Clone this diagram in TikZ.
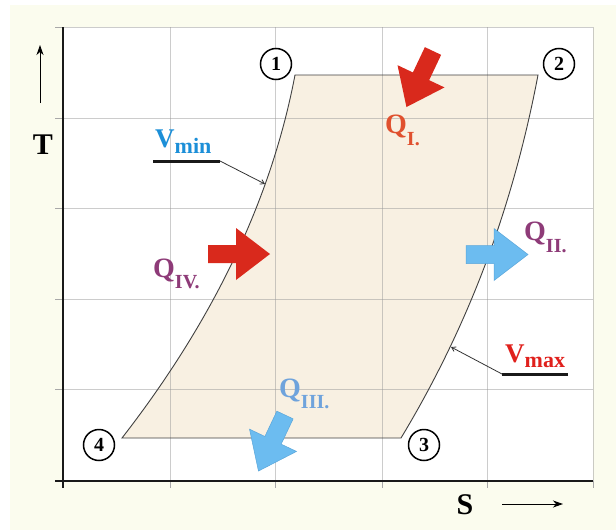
\documentclass[tikz,border=0pt]{standalone}
\usepackage{fontspec}
\setmainfont{Liberation Serif}
\usetikzlibrary{arrows.meta}
\definecolor{bgyellow}{HTML}{FBFCEE}
\definecolor{cyclefill}{HTML}{F8F0E2}
\definecolor{gridgray}{HTML}{9A9A9A}
\definecolor{tickgray}{HTML}{A8A8A8}
\definecolor{qred}{HTML}{D9291C}
\definecolor{qredtext}{HTML}{E0502E}
\definecolor{qpurple}{HTML}{8E3B78}
\definecolor{qbluetext}{HTML}{6FA3DC}
\definecolor{qblue}{HTML}{6CBCF0}
\definecolor{qblueedge}{HTML}{5AA6DA}
\definecolor{vminblue}{HTML}{1C8FD8}
\definecolor{vmaxred}{HTML}{E0201C}
\newcommand*\mysubsize{\fontsize{20}{20}\selectfont}
\newcommand*\myvsub{\fontsize{22}{22}\selectfont}
\begin{document}
\begin{tikzpicture}[x=1pt,y=-1pt,
  gridline/.style={draw=gridgray,line width=0.9pt,opacity=0.5},
  ticks/.style={draw=tickgray,line width=1pt},
  axisline/.style={draw=black!90,line width=2pt},
  cycleline/.style={draw=black!75,line width=0.9pt},
  circnum/.style={circle,draw=black,line width=1.5pt,fill=white,minimum size=31pt,inner sep=0pt,font=\fontsize{20}{20}\selectfont\bfseries},
  qlabel/.style={anchor=base west,inner sep=0pt,font=\fontsize{28}{28}\selectfont\bfseries},
  vlabel/.style={anchor=base west,inner sep=0pt,font=\fontsize{27}{27}\selectfont\bfseries},
  axislabel/.style={inner sep=0pt,font=\fontsize{30}{30}\selectfont\bfseries},
  underbar/.style={draw=black!90,line width=3pt},
  leader/.style={draw=black!80,line width=0.8pt,-{Straight Barb[length=4pt,width=5pt]}},
  dirarrow/.style={draw=black,line width=1pt,-{Stealth[length=10pt,width=7pt,inset=3pt]}},
  blockarrow/.pic={\path[pic actions] (0,-9) -- (28,-9) -- (28,-26) -- (62,0) -- (28,26) -- (28,9) -- (0,9) -- cycle;}
]
\useasboundingbox (0,0) rectangle (616,530);
\fill[white] (0,0) rectangle (616,530);
\fill[bgyellow] (10,5) rectangle (616,530);
\fill[white] (63,27) rectangle (593,481);

% cycle points
\coordinate (p1) at (295,75);
\coordinate (p2) at (538,75);
\coordinate (p3) at (401,438);
\coordinate (p4) at (122,438);

\fill[cyclefill] (p1) -- (p2) .. controls (515,196) and (474,317) .. (p3) -- (p4) .. controls (216,317) and (272,196) .. (p1) -- cycle;

% grid
\foreach \x in {170,275,382,487} \draw[gridline] (\x,27) -- (\x,481);
\foreach \y in {118,208,299,389} \draw[gridline] (63,\y) -- (593,\y);
\draw[gridline] (63,27) -- (593,27) -- (593,481);
\foreach \y in {27,118,208,299,389} \draw[ticks] (55,\y) -- (63,\y);
\foreach \x in {170,275,382,487,593} \draw[ticks] (\x,481) -- (\x,488);

% axes
\draw[axisline] (63,27) -- (63,488);
\draw[axisline] (55,481) -- (593,481);

% cycle outline
\draw[cycleline] (p1) -- (p2) .. controls (515,196) and (474,317) .. (p3) -- (p4) .. controls (216,317) and (272,196) .. (p1) -- cycle;

% axis labels and arrows
\node[axislabel] (tlab) at (43,145) {T};
\coordinate (ta) at (40,103);
\coordinate (tb) at (40,45);
\draw[dirarrow] (ta) -- (tb);
\node[axislabel] (slab) at (465,505) {S};
\coordinate (sa) at (502,504);
\coordinate (sb) at (563,504);
\draw[dirarrow] (sa) -- (sb);

% circled state numbers
\node[circnum] (c1) at (276,64) {1};
\node[circnum] (c2) at (559,64) {2};
\node[circnum] (c3) at (424,445) {3};
\node[circnum] (c4) at (99,445) {4};

% heat arrows
\pic[fill=qred] at (433,51) [rotate=244.65] {blockarrow};
\pic[fill=qred] at (208,254) {blockarrow};
\pic[fill=qblue,draw=qblueedge,line width=0.5pt] at (466,254.5) {blockarrow};
\pic[fill=qblue,draw=qblueedge,line width=0.5pt] at (285,415) [rotate=244.65] {blockarrow};

% heat labels
\node[qlabel,text=qredtext] (q1) at (385,133) {Q\raisebox{-12pt}{\mysubsize I.}};
\node[qlabel,text=qpurple] (q2) at (524,240) {Q\raisebox{-12pt}{\mysubsize II.}};
\node[qlabel,text=qbluetext] (q3) at (279,397) {Q\raisebox{-11pt}{\mysubsize III.}};
\node[qlabel,text=qpurple] (q4) at (153,277) {Q\raisebox{-11pt}{\mysubsize IV.}};

% isochore labels
\node[vlabel,text=vminblue] (vmin) at (155,147) {V\raisebox{-6pt}{\myvsub min}};
\coordinate (vminA) at (153,161);
\coordinate (vminB) at (220,161);
\coordinate (vminC) at (265,184);
\draw[underbar] (vminA) -- (vminB);
\draw[leader] (vminB) -- (vminC);

\node[vlabel,text=vmaxred] (vmax) at (505,362) {V\raisebox{-5pt}{\myvsub max}};
\coordinate (vmaxA) at (568,374);
\coordinate (vmaxB) at (502,374);
\coordinate (vmaxC) at (451,347);
\draw[underbar] (vmaxA) -- (vmaxB);
\draw[leader] (vmaxB) -- (vmaxC);
\end{tikzpicture}
\end{document}
